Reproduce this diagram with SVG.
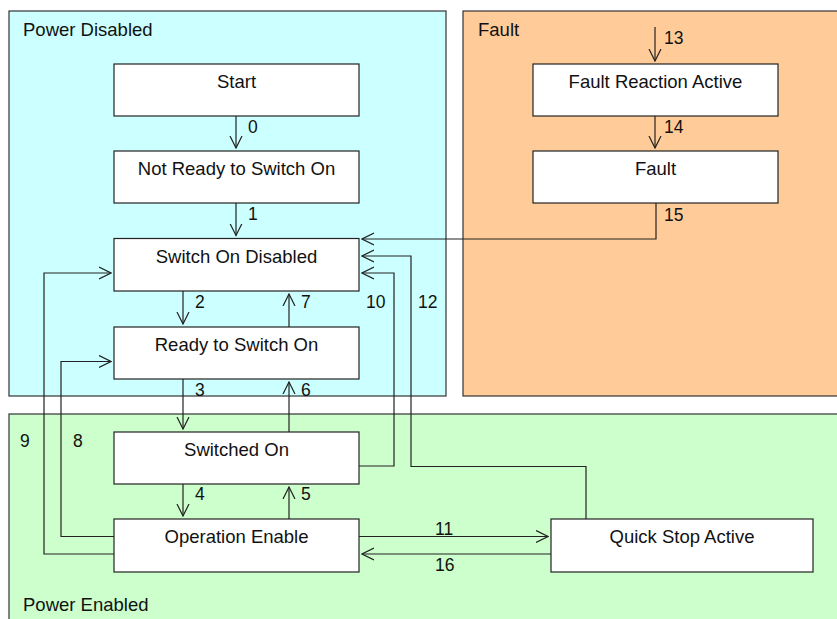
<svg xmlns="http://www.w3.org/2000/svg" width="837" height="619" viewBox="0 0 837 619">
<style>
.region{stroke:#333;stroke-width:1.2}
.node{fill:#fff;stroke:#222;stroke-width:1.2}
.t{font-family:"Liberation Sans",Arial,sans-serif;font-size:18.5px;fill:#111}
.n{font-family:"Liberation Sans",Arial,sans-serif;font-size:17.5px;fill:#111}
.c{fill:none;stroke:#222;stroke-width:1.2}
</style>
<defs>
<marker id="a" viewBox="0 0 13 14" refX="12" refY="7" markerWidth="13" markerHeight="14" markerUnits="userSpaceOnUse" orient="auto">
<path d="M0,1 L12,7 L0,13" fill="none" stroke="#222" stroke-width="1.2"/>
</marker>
</defs>
<rect width="837" height="619" fill="#fff"/>
<g id="power-disabled">
<rect class="region" x="9" y="11" width="437" height="385" fill="#CCFFFF"/>
<text class="t" x="23" y="36">Power Disabled</text>
</g>
<g id="fault-region">
<rect class="region" x="463" y="11" width="380" height="385" fill="#FFCC99"/>
<text class="t" x="478" y="36">Fault</text>
</g>
<g id="power-enabled">
<rect class="region" x="9" y="414" width="834" height="215" fill="#CCFFCC"/>
<text class="t" x="23" y="611">Power Enabled</text>
</g>
<g id="start"><rect class="node" x="114" y="64" width="245" height="52"/><text class="t" x="236.5" y="88" text-anchor="middle">Start</text></g>
<g id="not-ready"><rect class="node" x="114" y="151" width="245" height="52"/><text class="t" x="236.5" y="175" text-anchor="middle">Not Ready to Switch On</text></g>
<g id="switch-on-disabled"><rect class="node" x="114" y="238.5" width="245" height="52.5"/><text class="t" x="236.5" y="263" text-anchor="middle">Switch On Disabled</text></g>
<g id="ready"><rect class="node" x="114" y="327" width="245" height="52"/><text class="t" x="236.5" y="351" text-anchor="middle">Ready to Switch On</text></g>
<g id="switched-on"><rect class="node" x="114" y="432" width="245" height="52"/><text class="t" x="236.5" y="456" text-anchor="middle">Switched On</text></g>
<g id="operation-enable"><rect class="node" x="114" y="519" width="245" height="53"/><text class="t" x="236.5" y="543" text-anchor="middle">Operation Enable</text></g>
<g id="quick-stop"><rect class="node" x="551" y="519" width="262" height="53"/><text class="t" x="682" y="543" text-anchor="middle">Quick Stop Active</text></g>
<g id="fault-reaction"><rect class="node" x="533" y="64" width="245" height="52"/><text class="t" x="655.5" y="88" text-anchor="middle">Fault Reaction Active</text></g>
<g id="fault"><rect class="node" x="533" y="151" width="245" height="52"/><text class="t" x="655.5" y="175" text-anchor="middle">Fault</text></g>
<g id="connectors">
<path class="c" d="M236,116 V148" marker-end="url(#a)"/>
<path class="c" d="M236,203 V235.5" marker-end="url(#a)"/>
<path class="c" d="M183,291 V324" marker-end="url(#a)"/>
<path class="c" d="M289,327 V294" marker-end="url(#a)"/>
<path class="c" d="M183,379 V429" marker-end="url(#a)"/>
<path class="c" d="M289,432 V382" marker-end="url(#a)"/>
<path class="c" d="M183,484 V516" marker-end="url(#a)"/>
<path class="c" d="M289,519 V487" marker-end="url(#a)"/>
<path class="c" d="M359,466 H394 V273 H362" marker-end="url(#a)"/>
<path class="c" d="M586,519 V466.5 H411 V256 H362" marker-end="url(#a)"/>
<path class="c" d="M656,203 V239 H362" marker-end="url(#a)"/>
<path class="c" d="M655,27 V61" marker-end="url(#a)"/>
<path class="c" d="M655,116 V148" marker-end="url(#a)"/>
<path class="c" d="M114,554 H44 V273 H111" marker-end="url(#a)"/>
<path class="c" d="M114,536.5 H61 V361.5 H111" marker-end="url(#a)"/>
<path class="c" d="M359,536.5 H548" marker-end="url(#a)"/>
<path class="c" d="M551,554 H362" marker-end="url(#a)"/>
<text class="n" x="248" y="133">0</text>
<text class="n" x="248" y="220">1</text>
<text class="n" x="195" y="308">2</text>
<text class="n" x="301" y="308">7</text>
<text class="n" x="195" y="396">3</text>
<text class="n" x="301" y="396">6</text>
<text class="n" x="195" y="500">4</text>
<text class="n" x="301" y="500">5</text>
<text class="n" x="366" y="308">10</text>
<text class="n" x="418" y="308">12</text>
<text class="n" x="664" y="44">13</text>
<text class="n" x="664" y="133">14</text>
<text class="n" x="664" y="221">15</text>
<text class="n" x="20" y="447">9</text>
<text class="n" x="73" y="447">8</text>
<text class="n" x="435" y="535">11</text>
<text class="n" x="435" y="571">16</text>
</g>
</svg>
